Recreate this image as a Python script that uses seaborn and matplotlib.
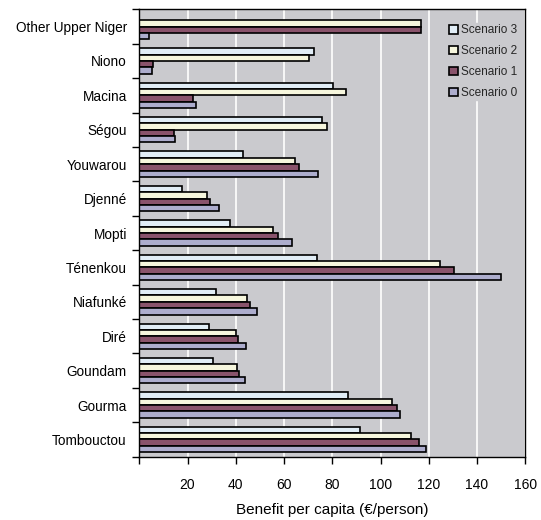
import matplotlib
matplotlib.use("Agg")
import matplotlib.pyplot as plt
import seaborn as sns
import pandas as pd
import numpy as np

regions = ["Other Upper Niger", "Niono", "Macina", "Ségou", "Youwarou", "Djenné",
           "Mopti", "Ténenkou", "Niafunké", "Diré", "Goundam", "Gourma", "Tombouctou"]
scenario3 = [0.0, 72.3, 80.4, 75.7, 43.1, 17.8, 37.4, 73.8, 31.8, 29.0, 30.7, 86.5, 91.6]
scenario2 = [116.6, 70.5, 85.7, 77.8, 64.4, 28.2, 55.5, 124.8, 44.8, 40.2, 40.5, 104.9, 112.7]
scenario1 = [116.6, 5.5, 22.4, 14.5, 66.3, 29.3, 57.3, 130.3, 45.9, 41.0, 41.5, 106.8, 115.9]
scenario0 = [4.1, 5.2, 23.4, 14.9, 74.2, 32.9, 63.1, 149.9, 48.9, 44.2, 43.9, 108.2, 118.8]
series_names = ["Scenario 3", "Scenario 2", "Scenario 1", "Scenario 0"]
x_ticks = [0, 20, 40, 60, 80, 100, 120, 140, 160]
x_tick_labels = ["", "20", "40", "60", "80", "100", "120", "140", "160"]

colors = {"Scenario 3": "#DDEEF9", "Scenario 2": "#FAFAD9",
          "Scenario 1": "#924A6A", "Scenario 0": "#A8A8D2"}
bg = "#CACACE"

rows = []
for name, vals in zip(series_names, [scenario3, scenario2, scenario1, scenario0]):
    for r, v in zip(regions, vals):
        rows.append({"Region": r, "Scenario": name, "Benefit": v})
df = pd.DataFrame(rows)

sns.set_theme(style="white")
plt.rcParams["font.family"] = ["Liberation Sans", "DejaVu Sans"]

fig = plt.figure(figsize=(5.41, 5.20), dpi=100)
ax = fig.add_axes([139.3 / 541, 1 - 456.7 / 520, (525.3 - 139.3) / 541, (456.7 - 9.3) / 520])
ax.set_facecolor(bg)

sns.barplot(data=df, y="Region", x="Benefit", hue="Scenario", order=regions,
            hue_order=series_names, palette=colors, orient="h", width=0.74, gap=0,
            edgecolor="black", linewidth=1.2, ax=ax, zorder=3, errorbar=None)

ax.set_xlim(0, 160)
ax.set_ylim(len(regions) - 0.5, -0.5)
ax.set_xticks(x_ticks)
ax.set_xticklabels(x_tick_labels, fontsize=10)
ax.tick_params(axis="x", direction="out", length=5, width=1, color="black", pad=10,
               bottom=True, labelcolor="black")
ax.tick_params(axis="y", which="major", length=0, pad=9, labelsize=9.8, labelcolor="black")
ax.set_yticks(np.arange(-0.5, len(regions), 1.0), minor=True)
ax.tick_params(axis="y", which="minor", direction="out", length=5, width=1, color="black", left=True)
ax.grid(axis="x", color="white", linewidth=1.2, zorder=0)
ax.grid(axis="y", visible=False)
ax.set_axisbelow(True)
for s in ax.spines.values():
    s.set_visible(True)
    s.set_color("black")
    s.set_linewidth(1)
    s.set_zorder(5)
ax.set_ylabel("")
ax.set_xlabel("Benefit per capita (€/person)", fontsize=11, labelpad=8, color="black")

leg = ax.legend(loc="upper right", bbox_to_anchor=(0.998, 0.982), fontsize=8.5,
                frameon=True, facecolor=bg, edgecolor=bg, framealpha=1,
                handlelength=0.75, handleheight=0.75, handletextpad=0.25,
                labelspacing=0.75, borderpad=0.1, fancybox=False)
for h in leg.legend_handles:
    h.set_edgecolor("black")
    h.set_linewidth(1.2)

fig.savefig("out.png", dpi=100, facecolor="white")
